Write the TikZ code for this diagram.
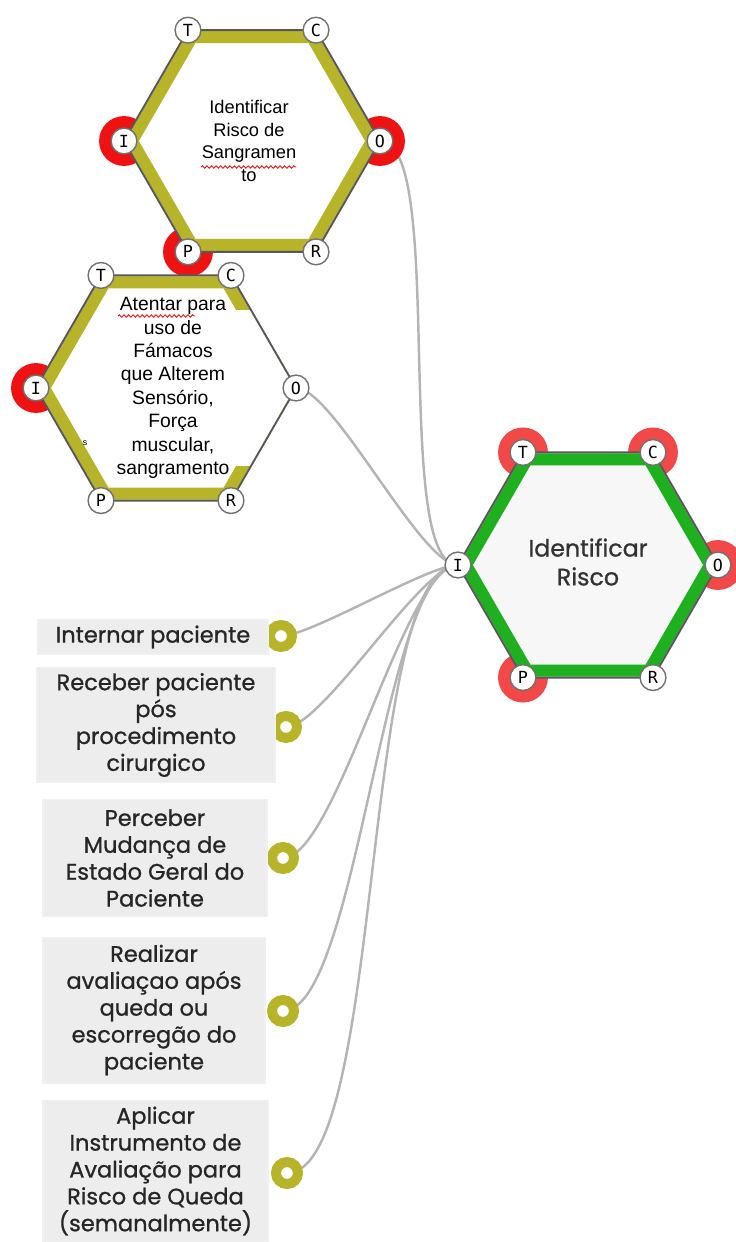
\documentclass[tikz,border=0pt]{standalone}
\usepackage{fontspec}
\setmainfont{Liberation Sans}
\newfontfamily\roundfont{Poppins}[FakeBold=0.9]
\newfontfamily\portfont{DejaVu Sans Mono}
\usetikzlibrary{positioning,decorations.pathmorphing}
\definecolor{olivebar}{RGB}{183,180,42}
\definecolor{greenbar}{RGB}{30,176,30}
\definecolor{redring}{RGB}{238,18,18}
\definecolor{softred}{RGB}{242,72,72}
\definecolor{linkgray}{RGB}{180,180,180}
\definecolor{boxgray}{RGB}{237,237,237}
\definecolor{edgegray}{RGB}{88,88,88}
\pgfdeclarelayer{links}
\pgfsetlayers{links,main}
\newcommand{\hexapath}[2]{(#1) ++(0:#2) -- ++(120:#2) -- ++(180:#2) -- ++(240:#2) -- ++(300:#2) -- ++(0:#2) -- cycle}
\newcommand{\drawhexa}[4]{% centre, radius, band colour, fill
    \fill[#4] \hexapath{#1}{#2};
    \draw[#3, line width=6.8pt, line join=miter] \hexapath{#1}{#2-8};
    \draw[edgegray, line width=1.1pt, line join=miter] \hexapath{#1}{#2};
}

\begin{document}
\begin{tikzpicture}[x=0.02cm, y=-0.02cm,
    port/.style = {circle, draw=edgegray!85, fill=white, line width=0.8pt, minimum size=14.7pt, inner sep=0pt, font=\portfont\fontsize{9.5}{9.5}\selectfont},
    ring/.style = {circle, draw=olivebar, line width=5.7pt, fill=white, minimum size=12.5pt, inner sep=0pt},
    box/.style = {fill=boxgray, draw=black!6, line width=0.6pt, align=center, inner sep=0pt, text=black!85, font=\roundfont\fontsize{12.8}{15.3}\selectfont},
    link/.style = {draw=linkgray, line width=1.4pt, out=0, in=180, looseness=0.4},
    spell/.style = {redring, line width=0.5pt, decorate, decoration={snake, amplitude=0.7pt, segment length=2.6pt}}]
    \useasboundingbox (0,0) rectangle (736,1242);

    \coordinate (h1) at (252,141);
    \coordinate (h2) at (166,388);
    \coordinate (h3) at (588,565);

    % red marks behind the corners
    \foreach \h/\r/\a/\c in {h1/128/180/redring, h1/128/0/redring, h1/128/120/redring, h2/130/180/redring,
        h3/130/-120/softred, h3/130/-60/softred, h3/130/0/softred, h3/130/120/softred}
        \fill[\c] ([shift={(\a:\r)}]\h) circle[radius=14.2pt];

    \drawhexa{h1}{128}{olivebar}{white}
    \drawhexa{h2}{130}{olivebar}{white}
    \drawhexa{h3}{130}{greenbar}{black!3}
    \begin{scope}
        \clip \hexapath{h2}{128.6};
        \fill[white] (104,310) rectangle (300,466);
    \end{scope}

    \node[align=center, font=\fontsize{10.4}{13}\selectfont] (h1text) at (249,141)
        {Identificar\\Risco de\\Sangramen\\to};
    \draw[spell] (201,167) -- (296,167);
    \node[align=center, font=\fontsize{11}{13.3}\selectfont] (h2text) at (173,388)
        {Atentar para\\uso de\\Fámacos\\que Alterem\\Sensório,\\Força\\muscular,\\sangramento};
    \draw[spell] (118,316) -- (195,316);
    \node[font=\fontsize{5}{5}\selectfont] (stray) at (85,443) {s};
    \node[align=center, text=black!80, font=\roundfont\fontsize{13.5}{16.4}\selectfont] (h3text) at (588,562)
        {Identificar\\Risco};

    \foreach \h/\r in {h1/128, h2/130, h3/130}
        \foreach \p/\a in {O/0, C/-60, T/-120, I/180, P/120, R/60}
            \node[port] (\h\p) at ([shift={(\a:\r)}]\h) {\p};

    \node[ring] (ring1) at (281,636) {};
    \node[ring] (ring2) at (286,727) {};
    \node[ring] (ring3) at (283,858) {};
    \node[ring] (ring4) at (283,1011) {};
    \node[ring] (ring5) at (287,1173) {};

    \node[box, minimum width=4.6cm, minimum height=0.68cm] (box1) at (153,637) {Internar paciente};
    \node[box, minimum width=4.76cm, minimum height=2.3cm] (box2) at (156,725)
        {Receber paciente\\pós\\procedimento\\cirurgico};
    \node[box, minimum width=4.48cm, minimum height=2.34cm] (box3) at (155,858)
        {Perceber\\Mudança de\\Estado Geral do\\Paciente};
    \node[box, minimum width=4.44cm, minimum height=2.92cm] (box4) at (154,1010)
        {Realizar\\avaliaçao após\\queda ou\\escorregão do\\paciente};
    \node[box, minimum width=4.5cm, minimum height=2.84cm] (box5) at (155.5,1171)
        {Aplicar\\Instrumento de\\Avaliação para\\Risco de Queda\\(semanalmente)};

    \begin{pgfonlayer}{links}
        \foreach \s in {h1O, h2O, ring1, ring2, ring3, ring4, ring5}
            \draw[link] (\s.center) to (h3I.center);
    \end{pgfonlayer}
\end{tikzpicture}
\end{document}
